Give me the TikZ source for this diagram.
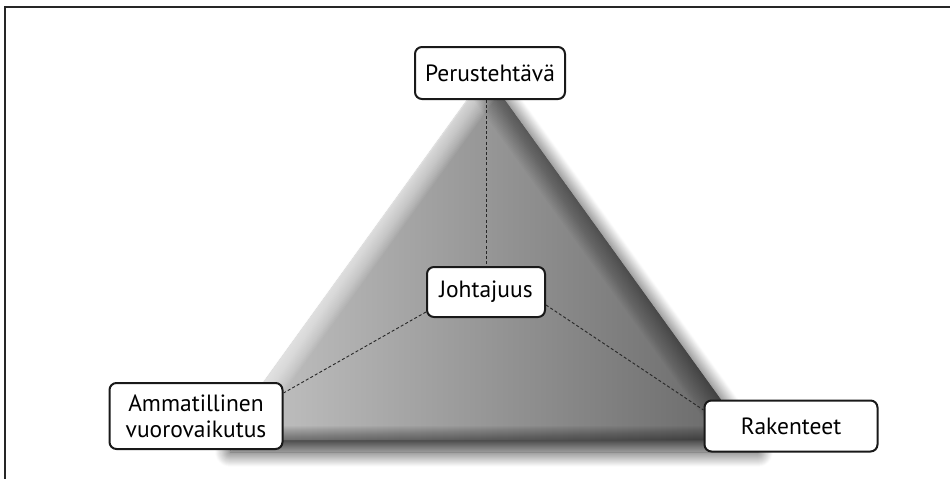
\documentclass[tikz,border=0pt]{standalone}
\usepackage{fontspec}
\setmainfont{PT Sans}
\usetikzlibrary{shadows.blur,calc}
\begin{document}
\begin{tikzpicture}[x=1pt,y=-1pt,
  box/.style={draw=black!90, line width=2pt, rounded corners=7pt, fill=white,
    font=\fontsize{23.5}{26}\selectfont, align=center, inner sep=0pt},
  link/.style={draw=black!85, line width=0.9pt, dash pattern=on 3pt off 2.2pt}]
\useasboundingbox (0,0) rectangle (950,479);
\draw[line width=2.5pt, black!85] (5,479) -- (5,7) -- (950,7);
\coordinate (T) at (486,74);
\coordinate (BL) at (222,440);
\coordinate (BR) at (750,440);
\path[fill=black!55, blur shadow={shadow xshift=8pt, shadow yshift=-12pt, shadow blur radius=15pt, shadow blur steps=30, shadow opacity=80}] (T) -- (BL) -- (BR) -- cycle;
\begin{scope}
\clip (T) -- (BL) -- (BR) -- cycle;
\shade[left color=black!22, middle color=black!38, right color=black!60] (222,70) rectangle (750,440);
\foreach \i in {1,...,20} \draw[white, opacity=0.05, line width={2.2pt*\i}] (T) -- (BL);
\foreach \i in {1,...,20} \draw[black, opacity=0.018, line width={2.5pt*\i}] (T) -- (BR);
\foreach \i in {1,...,14} \draw[black, opacity=0.03, line width={2pt*\i}] (BL) -- (BR);
\end{scope}
\draw[black!12, line width=1pt] (T) -- (BL);
\node[box, minimum width=150pt, minimum height=52pt] (P) at (490,73) {Perustehtävä};
\node[box, minimum width=118pt, minimum height=50pt] (J) at (486,292) {Johtajuus};
\node[box, minimum width=173pt, minimum height=66pt] (A) at (196,416) {Ammatillinen\\vuorovaikutus};
\node[box, minimum width=173pt, minimum height=51pt] (R) at (791,426) {Rakenteet};
\draw[link] ([xshift=-4pt]P.south) -- (J.north);
\draw[link] ([yshift=-20pt]J.west) -- ([yshift=23pt]A.east);
\draw[link] ([yshift=-13pt]J.east) -- ([yshift=16pt]R.west);
\end{tikzpicture}
\end{document}
